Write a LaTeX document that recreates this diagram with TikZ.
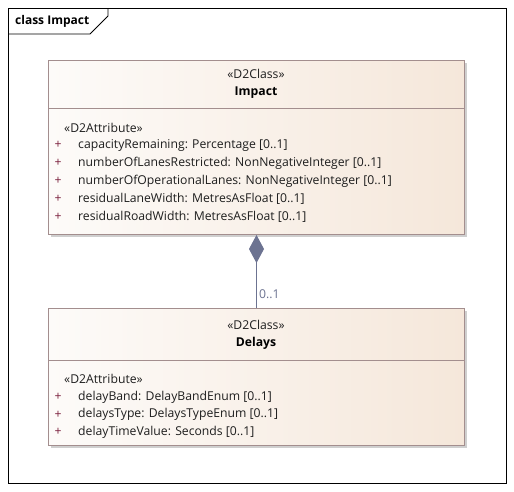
\documentclass[tikz,border=0pt]{standalone}
\usepackage{fontspec}
\setmainfont{Open Sans}
\usetikzlibrary{calc,positioning,arrows.meta}
\definecolor{ClassLine}{HTML}{A38E8E}
\definecolor{ClassFill}{HTML}{F5E7DA}
\definecolor{ClassLight}{HTML}{FDFBF9}
\definecolor{ShadowGray}{HTML}{CFCFCF}
\definecolor{LinkGray}{HTML}{6C7391}
\definecolor{PlusRed}{HTML}{7A1F3D}
\definecolor{TextDark}{HTML}{1E1E1E}

\tikzset{
  classbox/.style={draw=ClassLine, line width=1pt, left color=ClassLight, right color=ClassFill,
    minimum width=416pt, inner sep=0pt, anchor=north west},
  boxshadow/.style={fill=ShadowGray},
  stereo/.style={inner sep=0pt, text=TextDark, font=\fontsize{12.2}{14}\selectfont},
  classname/.style={inner sep=0pt, text=black, font=\fontsize{12.2}{14}\selectfont\bfseries},
  attr/.style={anchor=west, inner sep=0pt, text=TextDark, font=\fontsize{12.2}{14}\selectfont},
  plussign/.style={inner sep=0pt, text=PlusRed, font=\fontsize{12.2}{14}\selectfont},
  link/.style={draw=LinkGray, line width=1pt}
}

\begin{document}
\begin{tikzpicture}[x=1pt, y={(0pt,-1pt)}]
  \useasboundingbox[fill=white] (0,0) rectangle (514,491);

  % diagram frame
  \draw[line width=0.8pt] (8,8) rectangle (506,483);
  \draw[line width=0.8pt] (8,34) -- (90,34) -- (108,16) -- (108,8);
  \node[anchor=west, inner sep=0pt, font=\fontsize{12}{14}\selectfont\bfseries] (title) at (15,21) {class Impact};

  % Impact
  \fill[boxshadow] (51,63) rectangle (467,237);
  \node[classbox, minimum height=174pt] (impact) at (48,60) {};
  \draw[ClassLine, line width=1pt] ($(impact.north west)+(0,48)$) -- ($(impact.north east)+(0,48)$);
  \node[stereo] (impactstereo) at (256,74) {«D2Class»};
  \node[classname] (impactname) at (256,93) {Impact};
  \node[attr] (impactattr) at (64,128) {«D2Attribute»};
  \foreach \attrtext [count=\i from 0] in {
      {capacityRemaining: Percentage [0..1]},
      {numberOfLanesRestricted: NonNegativeInteger [0..1]},
      {numberOfOperationalLanes: NonNegativeInteger [0..1]},
      {residualLaneWidth: MetresAsFloat [0..1]},
      {residualRoadWidth: MetresAsFloat [0..1]}} {
    \node[plussign] (impactplus\i) at (58,145+18*\i) {+};
    \node[attr] (impactrow\i) at (78,145+18*\i) {\attrtext};
  }

  % Delays
  \fill[boxshadow] (51,311) rectangle (467,448);
  \node[classbox, minimum height=137pt] (delays) at (48,308) {};
  \draw[ClassLine, line width=1pt] ($(delays.north west)+(0,52)$) -- ($(delays.north east)+(0,52)$);
  \node[stereo] (delaysstereo) at (256,325) {«D2Class»};
  \node[classname] (delaysname) at (256,343) {Delays};
  \node[attr] (delaysattr) at (64,379) {«D2Attribute»};
  \foreach \attrtext [count=\i from 0] in {
      {delayBand: DelayBandEnum [0..1]},
      {delaysType: DelaysTypeEnum [0..1]},
      {delayTimeValue: Seconds [0..1]}} {
    \node[plussign] (delaysplus\i) at (58,397+17.5*\i) {+};
    \node[attr] (delaysrow\i) at (78,397+17.5*\i) {\attrtext};
  }

  % composition
  \draw[link, {Diamond[length=28pt, width=15pt, fill=LinkGray]}-] (impact.south) -- (delays.north);
  \node[anchor=west, inner sep=0pt, text=LinkGray, font=\fontsize{12.2}{14}\selectfont] (mult) at (259,294) {0..1};
\end{tikzpicture}
\end{document}
